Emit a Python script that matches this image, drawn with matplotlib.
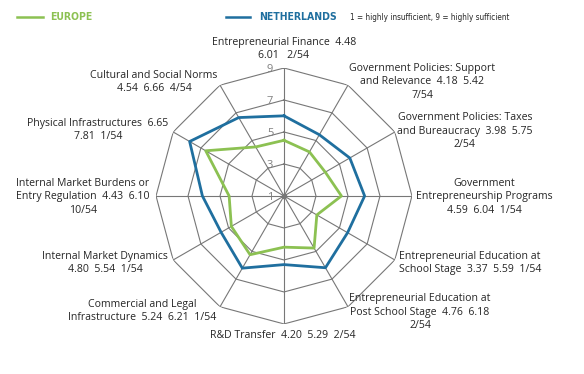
import numpy as np
import matplotlib
matplotlib.use("Agg")
import matplotlib.pyplot as plt

# Framework conditions, clockwise from the top
labels = [
    "Entrepreneurial Finance  4.48\n6.01   2/54",
    "Government Policies: Support\nand Relevance  4.18  5.42\n7/54",
    "Government Policies: Taxes\nand Bureaucracy  3.98  5.75\n2/54",
    "Government\nEntrepreneurship Programs\n4.59  6.04  1/54",
    "Entrepreneurial Education at\nSchool Stage  3.37  5.59  1/54",
    "Entrepreneurial Education at\nPost School Stage  4.76  6.18\n2/54",
    "R&D Transfer  4.20  5.29  2/54",
    "Commercial and Legal\nInfrastructure  5.24  6.21  1/54",
    "Internal Market Dynamics\n4.80  5.54  1/54",
    "Internal Market Burdens or\nEntry Regulation  4.43  6.10\n10/54",
    "Physical Infrastructures  6.65\n7.81  1/54",
    "Cultural and Social Norms\n4.54  6.66  4/54",
]
europe = [4.48, 4.18, 3.98, 4.59, 3.37, 4.76, 4.20, 5.24, 4.80, 4.43, 6.65, 4.54]
netherlands = [6.01, 5.42, 5.75, 6.04, 5.59, 6.18, 5.29, 6.21, 5.54, 6.10, 7.81, 6.66]
levels = [1, 3, 5, 7, 9]

GREEN = "#8cc152"
BLUE = "#1f6f9f"
GRID = "#777777"
TXT = "#262626"

plt.rcParams["font.family"] = ["Open Sans", "DejaVu Sans"]

fig = plt.figure(figsize=(5.84, 3.74), dpi=100)
# polar axes centred at ~(284, 196) px, radius ~128 px
ax = fig.add_axes([0.4863 - 0.2192, 0.476 - 0.3422, 0.4384, 0.6844], projection="polar")
ax.set_theta_zero_location("N")
ax.set_theta_direction(-1)
ax.set_ylim(1, 9)
ax.axis("off")

n = len(labels)
theta = np.linspace(0, 2 * np.pi, n, endpoint=False)
theta_c = np.append(theta, theta[0])

# polygon grid
for lv in levels[1:]:
    ax.plot(theta_c, [lv] * (n + 1), color=GRID, lw=0.8, zorder=1)
for t in theta:
    ax.plot([t, t], [1, 9], color=GRID, lw=0.8, zorder=1)
ax.plot([0], [1], marker="o", ms=3, color=GRID, zorder=2)

# level labels left of the top spoke
for lv in levels:
    ax.annotate(str(lv), xy=(0, lv), xytext=(-10, -1), textcoords="offset points",
                ha="center", va="center", fontsize=8, color="#7f7f7f")

ax.plot(theta_c, europe + europe[:1], color=GREEN, lw=2, zorder=3)
ax.plot(theta_c, netherlands + netherlands[:1], color=BLUE, lw=2, zorder=4)

# category labels (figure pixel positions of the text centres)
label_pos = [
    (284, 49), (422, 82), (465, 131), (484, 197), (470, 263), (420, 312),
    (283, 336), (142, 311), (105, 263), (83, 197), (98, 130), (154, 82),
]
for lab, (px, py) in zip(labels, label_pos):
    fig.text(px / 584, 1 - py / 374, lab, ha="center", va="center",
             fontsize=7.6, color=TXT, linespacing=1.3)

# legend at the top
cond = dict(family="DejaVu Sans", stretch="condensed")
fig.add_artist(plt.Line2D([17 / 584, 43 / 584], [1 - 17 / 374] * 2, color=GREEN, lw=1.8))
fig.text(50 / 584, 1 - 17 / 374, "EUROPE", color=GREEN, fontsize=7.5, fontweight="bold",
         va="center", ha="left", **cond)
fig.add_artist(plt.Line2D([226 / 584, 250 / 584], [1 - 17 / 374] * 2, color=BLUE, lw=1.8))
fig.text(259 / 584, 1 - 17 / 374, "NETHERLANDS", color=BLUE, fontsize=7.5, fontweight="bold",
         va="center", ha="left", **cond)
fig.text(350 / 584, 1 - 17 / 374, "1 = highly insufficient, 9 = highly sufficient", color=TXT,
         fontsize=5.9, va="center", ha="left", **cond)

fig.savefig("out.png", dpi=100)
